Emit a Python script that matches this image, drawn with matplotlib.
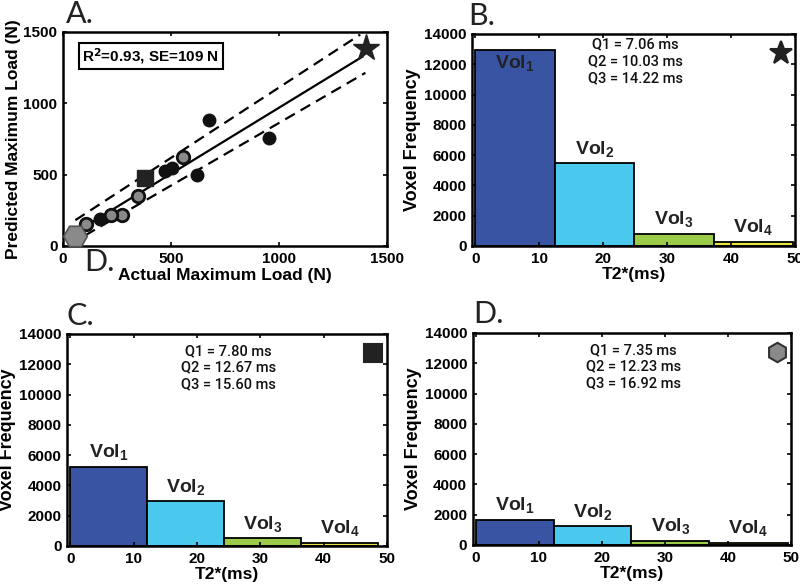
import numpy as np
import matplotlib
matplotlib.use("Agg")
import matplotlib.pyplot as plt

plt.rcParams['font.family'] = ['Liberation Sans', 'DejaVu Sans']
plt.rcParams['mathtext.default'] = 'regular'

# panel A data (N)
black_x = [677, 952, 620, 474, 505, 170]
black_y = [884, 755, 497, 527, 544, 188]
grey_x = [556, 346, 273, 222, 106]
grey_y = [621, 352, 220, 220, 157]
star_pt = (1404, 1387)
square_pt = (378, 478)
hex_pt = (57, 68)
fit_x = [57, 1386]
fit_y = [96, 1327]
upper_x = [57, 1376]
upper_y = [181, 1482]
lower_x = [103, 1400]
lower_y = [75, 1214]

# histogram panels
vol_labels = ['Vol$_1$', 'Vol$_2$', 'Vol$_3$', 'Vol$_4$']
vol_colors = ['#3a54a4', '#4bc8ee', '#9ccb4a', '#e9e43c']
edges_B = [0, 12.45, 24.85, 37.3, 49.6]
edges_C = [0, 12.15, 24.3, 36.4, 48.6]
edges_D = [0, 12.4, 24.7, 37.05, 49.5]
counts_B = [12950, 5450, 820, 290]
counts_C = [5230, 2950, 530, 220]
counts_D = [1680, 1240, 290, 150]
q_B = ['7.06', '10.03', '14.22']
q_C = ['7.80', '12.67', '15.60']
q_D = ['7.35', '12.23', '16.92']

fig = plt.figure(figsize=(8, 5.85), dpi=100)

def style(ax):
    for s in ax.spines.values():
        s.set_linewidth(1.8)
    ax.tick_params(direction='in', length=3, width=1.2, top=True, right=True,
                   labelsize=11, pad=4)
    for lab in ax.get_xticklabels() + ax.get_yticklabels():
        lab.set_fontweight('bold')

# ---- A ----
axA = fig.add_axes([0.0788, 0.5795, 0.405, 0.3658])
axA.plot(upper_x, upper_y, 'k--', lw=1.6, dashes=(5, 3))
axA.plot(lower_x, lower_y, 'k--', lw=1.6, dashes=(5, 3))
axA.plot(fit_x, fit_y, 'k-', lw=1.6)
axA.plot(black_x, black_y, 'o', color='#111', ms=9, zorder=3)
axA.plot(grey_x, grey_y, 'o', mfc='#8a8a8a', mec='#111', mew=2, ms=9, zorder=3)
axA.plot(*star_pt, '*', color='#222', ms=20, zorder=4, clip_on=False)
axA.plot(*square_pt, 's', color='#222', ms=12, zorder=4)
axA.plot(*hex_pt, 'H', mfc='#8a8a8a', mec='#555', mew=1.2, ms=17, zorder=4, clip_on=False)
axA.set_xlim(0, 1500)
axA.set_ylim(0, 1500)
axA.set_xticks([0, 500, 1000, 1500])
axA.set_yticks([0, 500, 1000, 1500])
axA.set_xlabel('Actual Maximum Load (N)', fontsize=12.5, fontweight='bold', labelpad=2)
axA.set_ylabel('Predicted Maximum Load (N)', fontsize=12.5, fontweight='bold', labelpad=2)
axA.text(0.06, 0.935, r'R$^\mathbf{2}$=0.93, SE=109 N', transform=axA.transAxes,
         fontsize=11, fontweight='bold', va='top', ha='left',
         bbox=dict(boxstyle='square,pad=0.2', fc='white', ec='black', lw=1.5))
style(axA)

markers = {'B': ('*', '#222', '#222', 17), 'C': ('s', '#222', '#222', 13),
           'D': ('h', '#8a8a8a', '#333', 14)}

def hist_panel(rect, edges, counts, qs, key):
    ax = fig.add_axes(rect)
    widths = np.diff(edges)
    lefts = np.array(edges[:-1])
    ax.bar(lefts, counts, width=widths, align='edge', color=vol_colors,
           edgecolor='black', linewidth=1.3)
    for i in range(4):
        yl = min(counts[i] + 950, 12100)
        ax.text(lefts[i] + widths[i] / 2, yl, vol_labels[i], ha='center', va='center',
                fontsize=14, fontweight='bold', color='#222')
    txt = 'Q1 = %s ms\nQ2 = %s ms\nQ3 = %s ms' % tuple(qs)
    ytop = 13750 if key == 'B' else 13350
    ax.text(25, ytop, txt, ha='center', va='top', fontsize=10.5, linespacing=1.25,
            color='#111', family=['Roboto', 'Liberation Sans'], fontweight='medium')
    m, fc, ec, ms = markers[key]
    ax.plot(47.8, 12750, m, mfc=fc, mec=ec, mew=1.5, ms=ms)
    ax.set_xlim(-0.5, 50)
    ax.set_ylim(0, 14000)
    ax.set_xticks([0, 10, 20, 30, 40, 50])
    ax.set_yticks(np.arange(0, 14001, 2000))
    ax.set_xlabel('T2*(ms)', fontsize=12.5, fontweight='bold', labelpad=1)
    ax.set_ylabel('Voxel Frequency', fontsize=13, fontweight='bold', labelpad=2)
    style(ax)
    return ax

hist_panel([0.59, 0.5795, 0.404, 0.3624], edges_B, counts_B, q_B, 'B')
hist_panel([0.0838, 0.0667, 0.40, 0.3624], edges_C, counts_C, q_C, 'C')
hist_panel([0.591, 0.0684, 0.3975, 0.3624], edges_D, counts_D, q_D, 'D')

# panel letters
lab_kw = dict(fontsize=22, color='#222', family=['Lato', 'DejaVu Sans'], fontweight='normal',
              va='top', ha='left')
fig.text(66 / 800, 1 - 0 / 585, 'A.', **lab_kw)
fig.text(468 / 800, 1 - 2 / 585, 'B.', **lab_kw)
fig.text(66 / 800, 1 - 302 / 585, 'C.', **lab_kw)
fig.text(473 / 800, 1 - 300 / 585, 'D.', **lab_kw)
fig.text(84 / 800, 1 - 248 / 585, 'D.', **lab_kw)

fig.savefig('out.png', dpi=100)
